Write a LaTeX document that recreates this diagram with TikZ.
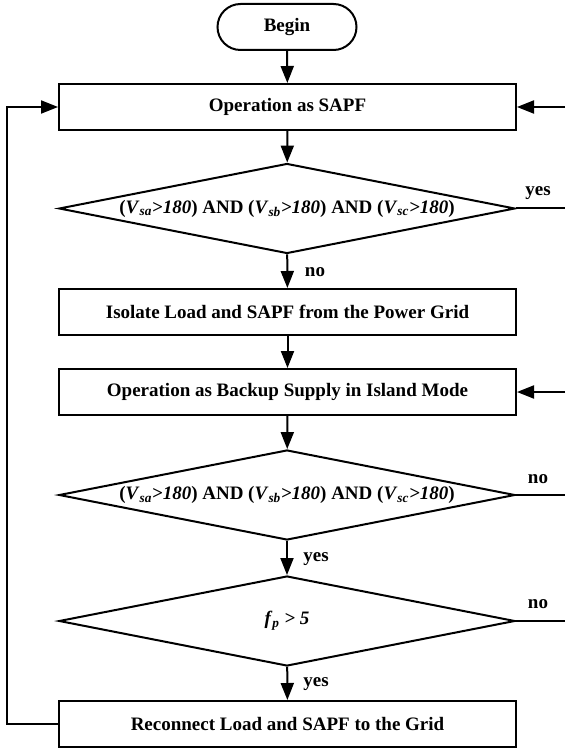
\documentclass[tikz,border=0pt]{standalone}
\usepackage{fontspec}
\setmainfont{Liberation Serif}
\usetikzlibrary{arrows.meta,shapes.geometric}
\newcommand{\vcond}[1]{(\textit{V}\textsubscript{\textit{#1}}\textit{>180})}
\tikzset{
  x=1pt, y=-1pt,
  every node/.style={font=\fontsize{19}{22}\selectfont\bfseries},
  proc/.style={draw, line width=2pt, rectangle, minimum width=457pt, minimum height=46pt, inner sep=0pt},
  term/.style={draw, line width=2pt, rectangle, rounded corners=23pt, minimum width=139pt, minimum height=46pt, inner sep=0pt},
  decide/.style={draw, line width=2pt, diamond, aspect=5, minimum width=456pt, minimum height=90pt, inner sep=0pt},
  arr/.style={line width=2pt, -{Triangle[length=17pt,width=13pt]}},
  ln/.style={line width=2pt},
  lbl/.style={inner sep=0pt}
}
\begin{document}
\begin{tikzpicture}
\useasboundingbox (0,0) rectangle (565,751);
\coordinate (R) at (565,0);
\coordinate (L) at (7,0);
\node[term] (begin) at (287,27) {Begin};
\node[proc] (sapf) at (287.5,107) {Operation as SAPF};
\node[decide] (d1) at (287,208.5) {\vcond{sa} AND \vcond{sb} AND \vcond{sc}};
\node[proc] (iso) at (287.5,312) {Isolate Load and SAPF from the Power Grid};
\node[proc] (backup) at (287.5,392) {Operation as Backup Supply in Island Mode};
\node[decide] (d2) at (287,495) {\vcond{sa} AND \vcond{sb} AND \vcond{sc}};
\node[decide] (d3) at (287,621) {\textit{f}\textsubscript{\textit{p}}\textit{ > 5}};
\node[proc] (recon) at (287.5,724) {Reconnect Load and SAPF to the Grid};

\draw[arr] (begin) -- (sapf);
\draw[arr] (sapf) -- (d1);
\draw[arr] (d1) -- (iso);
\draw[arr] (iso) -- (backup);
\draw[arr] (backup) -- (d2);
\draw[arr] (d2) -- (d3);
\draw[arr] (d3) -- (recon);
\draw[arr] (recon.west) -- (recon.west -| L) |- (sapf.west);
\draw[arr] (sapf.east -| R) -- (sapf.east);
\draw[arr] (backup.east -| R) -- (backup.east);
\draw[ln] (d1.east) -- (d1.east -| R);
\draw[ln] (d2.east) -- (d2.east -| R);
\draw[ln] (d3.east) -- (d3.east -| R);

\node[lbl] (y1) at (538,193) {yes};
\node[lbl] (n1) at (315,272) {no};
\node[lbl] (n2) at (538,479) {no};
\node[lbl] (y2) at (316,559) {yes};
\node[lbl] (n3) at (538,604) {no};
\node[lbl] (y3) at (316,684) {yes};
\end{tikzpicture}
\end{document}
